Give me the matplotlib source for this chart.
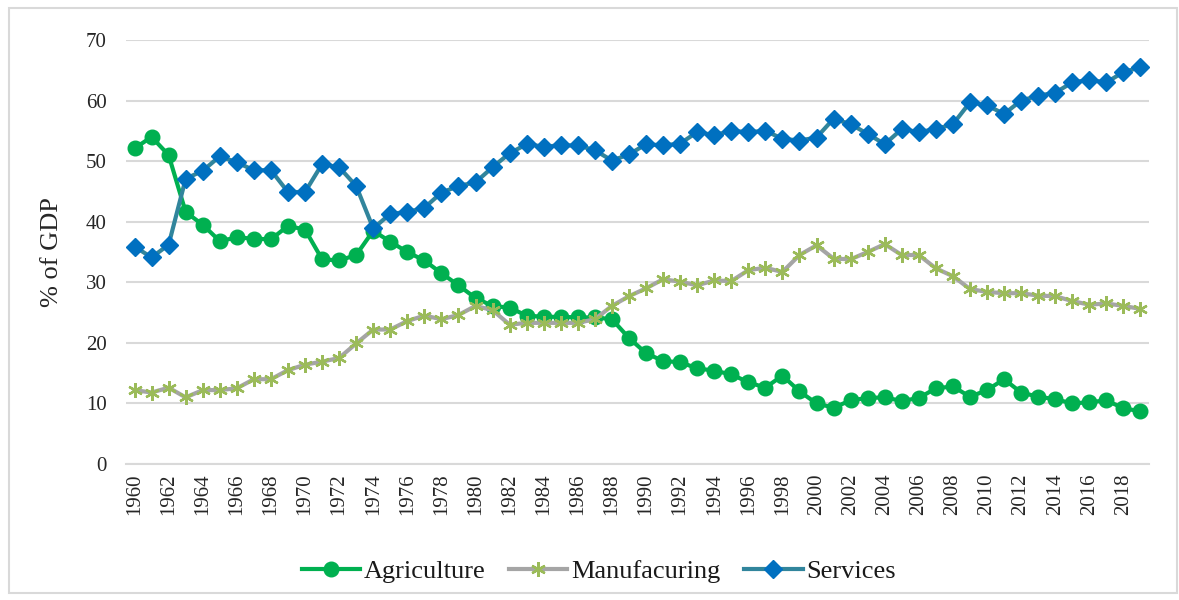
import matplotlib
matplotlib.use("Agg")
import matplotlib.pyplot as plt
from matplotlib.patches import Rectangle

years = list(range(1960, 2020))

agriculture = [52.1, 54.0, 51.0, 41.6, 39.5, 36.8, 37.4, 37.2, 37.1, 39.3,
               38.7, 33.8, 33.6, 34.5, 38.5, 36.7, 35.0, 33.6, 31.5, 29.5,
               27.4, 26.1, 25.8, 24.5, 24.3, 24.3, 24.2, 24.2, 23.9, 20.8,
               18.3, 17.0, 16.8, 15.8, 15.4, 14.8, 13.5, 12.6, 14.6, 12.0,
               10.0, 9.3, 10.5, 10.9, 11.0, 10.4, 10.9, 12.5, 12.8, 11.1,
               12.2, 14.0, 11.8, 11.1, 10.7, 10.0, 10.2, 10.5, 9.2, 8.7]

manufacturing = [12.2, 11.8, 12.6, 11.0, 12.2, 12.2, 12.5, 14.0, 14.0, 15.5,
                 16.4, 16.9, 17.5, 19.9, 22.2, 22.2, 23.6, 24.5, 23.9, 24.6,
                 26.1, 25.4, 23.0, 23.3, 23.3, 23.3, 23.3, 23.9, 26.1, 27.7,
                 29.0, 30.5, 30.1, 29.5, 30.3, 30.2, 32.0, 32.4, 31.7, 34.5,
                 36.1, 33.9, 33.8, 35.0, 36.3, 34.5, 34.5, 32.3, 31.0, 28.9,
                 28.4, 28.2, 28.2, 27.8, 27.7, 26.9, 26.3, 26.5, 26.1, 25.6]

services = [35.9, 34.1, 36.2, 47.1, 48.4, 50.8, 49.8, 48.5, 48.5, 44.9,
            44.9, 49.5, 49.0, 45.9, 38.9, 41.3, 41.6, 42.3, 44.8, 45.9,
            46.5, 49.0, 51.3, 52.8, 52.4, 52.6, 52.6, 51.8, 50.1, 51.1,
            52.8, 52.6, 52.9, 54.8, 54.3, 55.0, 54.8, 55.0, 53.7, 53.4,
            53.9, 57.0, 56.1, 54.5, 52.8, 55.3, 54.8, 55.3, 56.1, 59.7,
            59.2, 57.8, 60.0, 60.8, 61.3, 63.0, 63.4, 63.0, 64.7, 65.5]

series_names = ["Agriculture", "Manufacuring", "Services"]
y_ticks = [0, 10, 20, 30, 40, 50, 60, 70]
x_tick_labels = [str(y) for y in years[::2]]

plt.rcParams['font.family'] = ['Liberation Serif', 'DejaVu Serif']

fig = plt.figure(figsize=(11.79, 6.0), dpi=100)
W, H = 1179, 600
ax = fig.add_axes([126 / W, 1 - 464 / H, (1149 - 126) / W, (464 - 40) / H])

xs = list(range(len(years)))

ax.plot(xs, agriculture, color='#00B050', lw=3.0, marker='o', ms=10.5,
        mfc='#00B050', mec='#00B050', label=series_names[0], zorder=3,
        solid_joinstyle='round')
ax.plot(xs, manufacturing, color='#A5A5A5', lw=3.0, marker=(6, 2, 0), ms=10.5,
        mec='#9BBB59', mew=1.7, label=series_names[1], zorder=4,
        solid_joinstyle='round')
ax.plot(xs, services, color='#31859C', lw=3.0, marker='D', ms=9,
        mfc='#0070C0', mec='#0070C0', label=series_names[2], zorder=5,
        solid_joinstyle='round')

ax.set_xlim(-0.5, len(years) - 0.5)
ax.set_ylim(0, 70)
ax.set_yticks(y_ticks)
ax.set_yticklabels([str(v) for v in y_ticks], fontsize=15)
ax.set_xticks(xs[::2])
ax.set_xticklabels(x_tick_labels, rotation=90, fontsize=15)
ax.tick_params(axis='both', length=0, colors='#262626')
ax.tick_params(axis='y', pad=14)
ax.tick_params(axis='x', pad=7)

ax.grid(axis='y', color='#D9D9D9', lw=1.5)
ax.set_axisbelow(True)
for s in ['top', 'right', 'left']:
    ax.spines[s].set_visible(False)
ax.spines['bottom'].set_color('#D9D9D9')
ax.spines['bottom'].set_linewidth(1.5)

ax.set_ylabel('% of GDP', fontsize=19, color='#262626', labelpad=16)

leg = fig.legend(loc='center', bbox_to_anchor=(599 / W, 1 - 571 / H), ncol=3,
                 frameon=False, fontsize=19, handlelength=2.2,
                 handletextpad=0.15, columnspacing=0.9)
for t in leg.get_texts():
    t.set_color('#1a1a1a')

fig.patches.append(Rectangle((9 / W, 7 / H), (1177 - 9) / W, (592 - 7) / H,
                             transform=fig.transFigure, fill=False,
                             edgecolor='#D9D9D9', lw=1.5))

fig.savefig('out.png', dpi=100)
